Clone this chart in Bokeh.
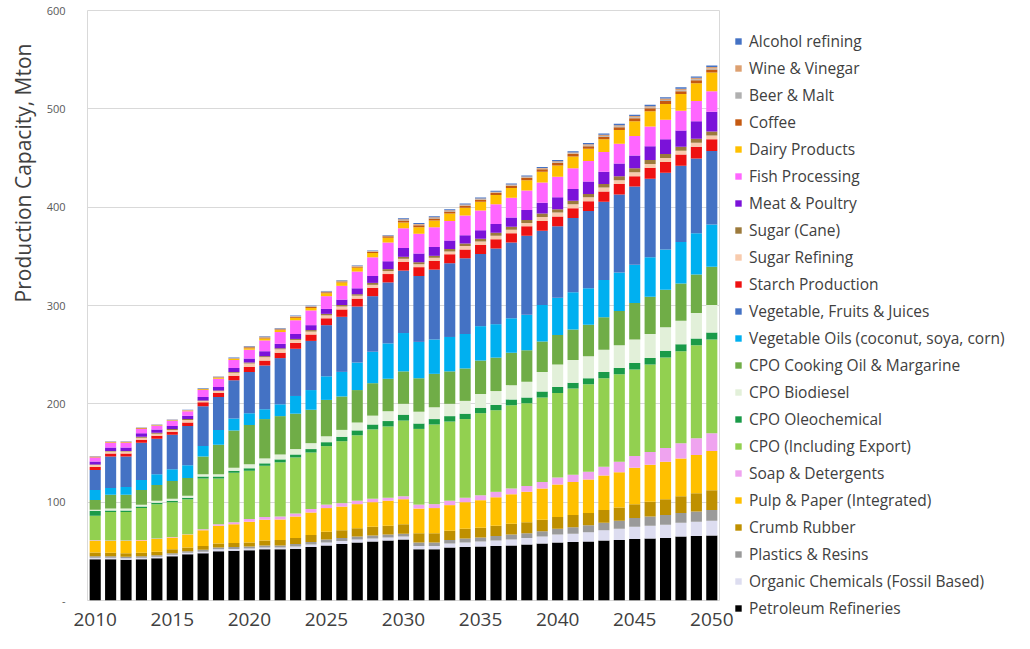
from bokeh.plotting import figure
from bokeh.models import (ColumnDataSource, Range1d, FixedTicker,
                          Legend, LegendItem, Title)
from bokeh.embed import file_html
from bokeh.resources import INLINE

years = list(range(2010, 2051))
x_ticks = [2010, 2015, 2020, 2025, 2030, 2035, 2040, 2045, 2050]
y_ticks = [0, 100, 200, 300, 400, 500, 600]

petroleum = [42, 42, 41.5, 42, 43, 45, 47, 48, 50, 50.5,
             51, 52, 52, 52.5, 54.5, 56, 57.5, 59, 60, 61,
             62, 52, 52, 54, 54.5, 55, 55.5, 56, 57, 58,
             59, 59.5, 60, 61, 61.5, 62.5, 63, 63.5, 65, 65.5, 66]
organic = [1.5, 1.5, 1.5, 1.5, 1.5, 1.5, 1.5, 1.5, 2, 2,
           2, 2, 2, 2.5, 2.5, 3, 3, 3, 3, 3,
           3, 3.5, 3.5, 4, 4.5, 5, 5.5, 6, 6.5, 7,
           8, 8.5, 9.5, 10.5, 11.5, 12.5, 13, 13.5, 14, 14.5, 15]
plastics = [1.5, 1.5, 1.5, 1.5, 1.5, 1.5, 1.5, 2, 2, 2,
            2, 2, 2, 2.5, 2.5, 3, 3, 3, 3, 3,
            3, 3.5, 3.5, 3.5, 4, 4, 4.5, 5, 5, 5.5,
            6, 6.5, 7, 7.5, 8, 9, 9.5, 10, 10, 10.5, 11]
crumb = [3.8, 3.5, 3.5, 3.5, 3.5, 4, 4, 4, 4, 4,
         4, 5, 5.5, 6, 7, 8, 8, 8.5, 9, 9,
         9.5, 9.5, 9.5, 9.5, 10, 10, 10.5, 11, 11, 11.5,
         12, 12.5, 12.5, 13, 13.5, 14, 15, 16, 17, 18.5, 20]
pulp = [12, 12, 12.5, 12.5, 13, 12, 13, 16, 18, 19,
        21, 21, 21, 22, 23, 24, 24, 24.5, 25, 25.5,
        25.5, 25, 25.5, 26, 27, 28, 29, 30, 31, 32,
        33, 33.5, 34, 35, 36, 37, 37.5, 38, 38.5, 39, 40]
soap = [0.5, 0.5, 0.5, 0.5, 0.5, 0.5, 0.5, 1, 1.5, 2,
        3, 3, 3, 3, 3.5, 3.5, 3.5, 3.5, 3.5, 3,
        3, 4, 4, 4.5, 4.5, 5, 5.5, 6, 6, 6.5,
        7, 7.5, 8, 9, 10.5, 12, 13, 14, 15.5, 17, 18]
cpo = [25, 29, 29, 32.5, 35, 35.5, 35.5, 51.5, 46.5, 50.5,
       49, 52, 55, 57, 57.5, 59.5, 63, 66.5, 70.5, 72.5,
       77, 77, 81, 80.5, 80, 83.5, 83, 84.5, 84, 86,
       86, 87.5, 89, 90, 89, 88, 89, 92, 93.5, 94.5, 95.5]
oleo = [5, 1.5, 1.5, 1.5, 1.5, 1.5, 1.5, 2, 2, 2,
        2.5, 2.5, 3, 3, 3.5, 4, 4.5, 5, 5, 5.5,
        6, 5.5, 5.5, 5.5, 5.5, 5.5, 5.5, 6, 6, 6,
        6, 6, 6, 6.5, 6.5, 6.5, 6.5, 7, 7, 7, 7]
biodiesel = [1, 2, 2, 2, 2, 2, 2, 2.5, 2.5, 3,
             4, 5, 5, 5.5, 6, 6, 7, 8, 9, 10,
             11, 12, 12, 12.5, 13, 14, 14, 14.5, 16, 20,
             23, 23, 22.5, 22.5, 23, 24, 24.5, 24, 24, 26, 28]
cooking = [10, 14, 14, 15, 16, 18, 18, 18, 30, 38,
           40, 40, 39, 36, 34, 37, 34, 33, 33, 33,
           33, 34, 34, 33, 33, 34, 34, 33, 32, 31,
           30, 31, 32, 33, 35, 37, 38, 38, 38, 39, 39]
vegoils = [10, 7, 8, 10, 11, 12, 13, 10.5, 15, 12,
           12, 10, 12, 18, 20, 24, 25, 28, 32, 36,
           39, 37, 35, 35, 35, 35, 34, 35, 36, 37,
           38, 38, 37, 38, 39, 39, 40, 41, 42, 42, 43]
vegfruit = [20.5, 32, 31, 38, 36, 35, 40, 40.5, 33.5, 39,
            42, 44.5, 47, 48, 50, 52, 56, 57, 56.5, 62,
            63.5, 67, 71, 75, 77, 73.5, 77, 77, 80.5, 75.5,
            72.5, 75.5, 78.5, 79.5, 79.5, 79.5, 80, 78, 77.5, 76, 74.5]
starch = [3, 3, 3, 3, 3, 3, 3.5, 4, 4, 4.5,
          5, 5, 5.5, 6, 6.5, 7, 7.5, 8, 8.5, 8.5,
          9, 9, 9, 9, 9, 9, 9.5, 9.5, 9.5, 10,
          10, 10, 10, 10.5, 10.5, 10.5, 11, 11, 11.5, 12, 12]
sugref = [2, 2, 2, 2, 2, 2, 2.5, 1.5, 2, 3,
          3.5, 3.5, 3.5, 3, 3, 3, 3, 3, 3, 3,
          3, 3, 3, 3, 3.5, 3.5, 3.5, 3.5, 3.5, 4,
          4, 4, 4, 4, 4, 4, 4, 4, 4, 4, 4]
sugcane = [0.5, 0.5, 0.5, 1, 1, 1, 1, 0.5, 0.5, 1,
           1, 1, 1, 1, 1.5, 1.5, 1.5, 1.5, 2, 2,
           2, 2, 2, 2.5, 2.5, 3, 3, 3, 3, 3.5,
           3.5, 3.5, 3.5, 3.5, 4, 4, 4, 4, 4, 4, 4]
meat = [3, 3.5, 3.5, 3.5, 3.5, 3, 3.5, 3.5, 3.5, 4,
        4, 5, 4.5, 5, 5, 5, 5.5, 6, 7, 8,
        9, 9, 9, 8.5, 8.5, 8.5, 9, 9.5, 10, 11,
        12, 12, 12.5, 12.5, 13, 13, 14, 15, 16.5, 18, 20]
fish = [4, 5, 5, 4.5, 3.5, 5, 4.5, 7, 8.5, 8,
        9, 11, 12, 14, 15, 13, 14, 17, 19, 19,
        20, 20, 20, 20, 20, 20, 20, 20, 20, 20.5,
        21, 21, 21, 20, 20, 20, 20, 20, 20, 20.5, 21]
dairy = [0.5, 0.5, 0.5, 0.5, 0.5, 0.5, 0.5, 0.8, 1, 1.2,
         1.5, 2, 2, 2.5, 2.5, 3, 3.5, 4, 4.5, 5,
         6, 6.5, 7, 7.5, 8, 9, 9.5, 10, 10.5, 11,
         11.5, 12, 12.5, 13, 14, 15, 15.5, 16, 17, 18, 19]
coffee = [0.3, 0.3, 0.3, 0.3, 0.3, 0.3, 0.3, 0.4, 0.5, 0.5,
          1, 1, 0.8, 1, 1, 1, 1, 1, 1.2, 1.5,
          2, 2, 2, 2, 2, 2, 2, 2.2, 2.3, 2.5,
          2.5, 2.5, 2.5, 2.7, 2.8, 3, 3, 3, 3, 3, 3]
beer = [0.2, 0.2, 0.2, 0.2, 0.2, 0.2, 0.2, 0.3, 0.3, 0.3,
        0.4, 0.4, 0.4, 0.4, 0.4, 0.4, 0.4, 0.4, 0.4, 0.4,
        0.5, 0.5, 0.5, 0.5, 0.5, 0.5, 0.5, 0.5, 0.5, 0.5,
        0.7, 0.7, 0.8, 0.8, 0.9, 0.9, 0.9, 1, 1, 1, 1]
wine = [0.2, 0.2, 0.2, 0.2, 0.2, 0.2, 0.2, 0.2, 0.2, 0.2,
        0.4, 0.4, 0.4, 0.4, 0.4, 0.4, 0.4, 0.4, 0.4, 0.4,
        0.8, 0.8, 0.8, 0.8, 0.8, 0.8, 0.8, 0.8, 0.8, 0.8,
        1, 1, 1.1, 1.2, 1.2, 1.3, 1.3, 1.4, 1.4, 1.5, 1.5]
alcohol = [0.3, 0.3, 0.3, 0.3, 0.3, 0.3, 0.3, 0.3, 0.3, 0.3,
           0.5, 0.5, 0.5, 0.5, 0.5, 0.5, 0.5, 0.5, 0.5, 0.5,
           1, 1, 1, 1, 1, 1, 1, 1, 1, 1,
           1.2, 1.2, 1.3, 1.3, 1.4, 1.4, 1.4, 1.5, 1.5, 1.5, 1.5]

# bottom -> top
series = [
    ("petroleum", "Petroleum Refineries", "#000000", petroleum),
    ("organic", "Organic Chemicals (Fossil Based)", "#DDDDF0", organic),
    ("plastics", "Plastics & Resins", "#9A9A9A", plastics),
    ("crumb", "Crumb Rubber", "#BF9000", crumb),
    ("pulp", "Pulp & Paper (Integrated)", "#FFC000", pulp),
    ("soap", "Soap & Detergents", "#EFA3EF", soap),
    ("cpo", "CPO (Including Export)", "#92D050", cpo),
    ("oleo", "CPO Oleochemical", "#1A9A48", oleo),
    ("biodiesel", "CPO Biodiesel", "#E2F0D9", biodiesel),
    ("cooking", "CPO Cooking Oil & Margarine", "#70AD47", cooking),
    ("vegoils", "Vegetable Oils (coconut, soya, corn)", "#00B0F0", vegoils),
    ("vegfruit", "Vegetable, Fruits & Juices", "#4472C4", vegfruit),
    ("starch", "Starch Production", "#EE1111", starch),
    ("sugref", "Sugar Refining", "#F8CBAD", sugref),
    ("sugcane", "Sugar (Cane)", "#9C7A3C", sugcane),
    ("meat", "Meat & Poultry", "#7B12D9", meat),
    ("fish", "Fish Processing", "#FF66FF", fish),
    ("dairy", "Dairy Products", "#FFC000", dairy),
    ("coffee", "Coffee", "#C55A11", coffee),
    ("beer", "Beer & Malt", "#B0B0B0", beer),
    ("wine", "Wine & Vinegar", "#DDA070", wine),
    ("alcohol", "Alcohol refining", "#4472C4", alcohol),
]

data = {"year": years}
for key, _, _, vals in series:
    data[key] = vals
source = ColumnDataSource(data)

FONT = "Open Sans"

p = figure(x_range=Range1d(2009.5, 2050.5), y_range=Range1d(0, 600),
           frame_width=632, frame_height=590, output_backend="svg", toolbar_location=None,
           min_border_left=78, min_border_right=304, min_border_top=10, min_border_bottom=33)
p.background_fill_color = "white"
p.border_fill_color = "white"
p.outline_line_color = "#D9D9D9"

renderers = p.vbar_stack([s[0] for s in series], x="year", width=0.72, source=source,
                         fill_color=[s[2] for s in series], line_color=None)

p.xgrid.grid_line_color = None
p.ygrid.grid_line_color = "#D9D9D9"
p.ygrid.grid_line_width = 1

p.yaxis.ticker = FixedTicker(ticks=y_ticks)
p.yaxis.major_label_overrides = {0: "-"}
p.yaxis.axis_line_color = None
p.yaxis.major_tick_line_color = None
p.yaxis.minor_tick_line_color = None
p.yaxis.major_label_standoff = 16
p.yaxis.major_label_text_font = FONT
p.yaxis.major_label_text_font_size = "11px"
p.yaxis.major_label_text_color = "#595959"

p.xaxis.ticker = FixedTicker(ticks=x_ticks)
p.xaxis.axis_line_color = None
p.xaxis.major_tick_line_color = None
p.xaxis.minor_tick_line_color = None
p.xaxis.major_label_standoff = 6
p.xaxis.major_label_text_font = FONT
p.xaxis.major_label_text_font_size = "19px"
p.xaxis.major_label_text_color = "#404040"

ytitle = Title(text="Production Capacity, Mton", align="right", offset=33,
               text_font=FONT, text_font_size="21px", text_font_style="normal",
               text_color="#404040", standoff=13)
p.add_layout(ytitle, "left")

items = [LegendItem(label=s[1], renderers=[r]) for s, r in zip(series, renderers)]
items = items[::-1]
legend = Legend(items=items, location=(15, -21), orientation="vertical",
                label_text_font=FONT, label_text_font_size="15.5px", label_text_color="#404040",
                glyph_width=8, glyph_height=8, label_height=27, spacing=0,
                label_standoff=7, padding=0, margin=0,
                border_line_alpha=0, background_fill_alpha=0)
p.add_layout(legend, "right")

open("out.html", "w").write(file_html(p, INLINE))
